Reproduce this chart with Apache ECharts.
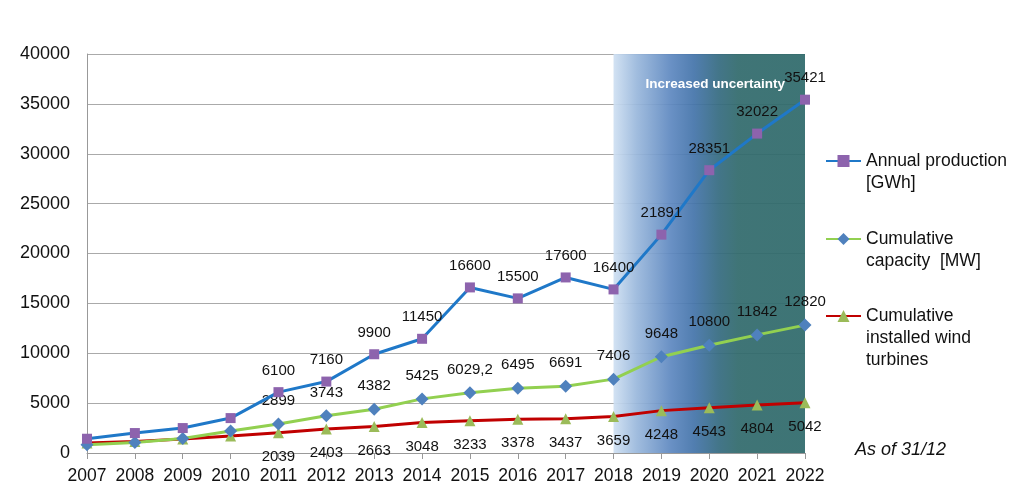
<!DOCTYPE html>
<html>
<head>
<meta charset="utf-8">
<script src="https://cdn.jsdelivr.net/npm/echarts@6/dist/echarts.min.js"></script>
<style>html,body{margin:0;padding:0;background:#fff;}#c{width:1023px;height:495px;}</style>
</head>
<body>
<div id="c"></div>
<script>
const years = ['2007','2008','2009','2010','2011','2012','2013','2014','2015','2016','2017','2018','2019','2020','2021','2022'];
const production = [1430, 2000, 2500, 3500, 6100, 7160, 9900, 11450, 16600, 15500, 17600, 16400, 21891, 28351, 32022, 35421];
const capacity = [830, 1050, 1450, 2200, 2899, 3743, 4382, 5425, 6029.2, 6495, 6691, 7406, 9648, 10800, 11842, 12820];
const turbines = [1000, 1150, 1400, 1700, 2039, 2403, 2663, 3048, 3233, 3378, 3437, 3659, 4248, 4543, 4804, 5042];
const labelFrom = 4; // labels shown from 2011
const yTicks = [0, 5000, 10000, 15000, 20000, 25000, 30000, 35000, 40000];
const uncertaintyFrom = '2018', uncertaintyTo = '2022';
const names = ['Annual production [GWh]', 'Cumulative capacity  [MW]', 'Cumulative installed wind turbines'];
const legendText = {
  'Annual production [GWh]': '\nAnnual production\n[GWh]',
  'Cumulative capacity  [MW]': '\nCumulative\ncapacity  [MW]',
  'Cumulative installed wind turbines': '\n\nCumulative\ninstalled wind\nturbines'
};

function fmt(v){ return String(v).replace('.', ','); }
function withLabels(arr){
  return arr.map((v,i)=> i >= labelFrom ? {value:v} : {value:v, label:{show:false}});
}

const FONT = 'Liberation Sans, Arial, sans-serif';
const chart = echarts.init(document.getElementById('c'), null, {renderer:'canvas'});
const labelStyle = {show:true, color:'#111', fontSize:15, fontFamily:FONT, formatter: p => fmt(p.value)};

const legendBase = {
  orient:'vertical', left: 820, itemWidth: 35, itemHeight: 15,
  textStyle:{fontSize:17.5, color:'#111', fontFamily:FONT, lineHeight:22},
  formatter: n => legendText[n], selectedMode:false
};

chart.setOption({
  animation:false,
  backgroundColor:'#fff',
  grid:{left:87, right:218, top:54, bottom:42},
  title:{text:'As of 31/12', left:850, top:436, textStyle:{fontSize:18, fontStyle:'italic', fontWeight:'normal', color:'#111', fontFamily:FONT}},
  legend:[
    Object.assign({}, legendBase, {data:[names[0]], top:161-33-5}),
    Object.assign({}, legendBase, {data:[names[1]], top:239-33-5}),
    Object.assign({}, legendBase, {data:[names[2]], top:316-55-5})
  ],
  xAxis:{
    type:'category', data:years, boundaryGap:false,
    axisLine:{lineStyle:{color:'#999'}},
    axisTick:{show:true, length:6, interval:0, lineStyle:{color:'#999'}},
    axisLabel:{color:'#111', fontSize:17.5, margin:14, interval:0, fontFamily:FONT}
  },
  yAxis:{
    type:'value', min:yTicks[0], max:yTicks[yTicks.length-1], interval:yTicks[1]-yTicks[0],
    axisLine:{show:true, lineStyle:{color:'#999'}},
    axisTick:{show:false},
    splitLine:{lineStyle:{color:'#aaa', width:1}},
    axisLabel:{color:'#111', fontSize:18, margin:17, fontFamily:FONT, formatter: v => String(v)}
  },
  series:[
    {
      name:names[0], type:'line', data:withLabels(production), z:5,
      symbol:'rect', symbolSize:10,
      lineStyle:{color:'#1f78c8', width:3},
      itemStyle:{color:'#8d63ad'},
      label:Object.assign({}, labelStyle, {position:'top', distance:9}),
      markArea:{
        silent:true,
        itemStyle:{
          opacity:0.93,
          color:{type:'linear', x:0, y:0, x2:1, y2:0, colorStops:[
            {offset:0, color:'#cfe0f2'},
            {offset:0.12, color:'#9ab8dc'},
            {offset:0.3, color:'#5e88c0'},
            {offset:0.42, color:'#4474aa'},
            {offset:0.55, color:'#356b80'},
            {offset:0.65, color:'#316a6c'},
            {offset:1, color:'#2f6a6b'}
          ]}
        },
        label:{show:true, position:'insideTop', distance:23, offset:[6,0], color:'#fff', fontWeight:'bold', fontSize:13.5, fontFamily:FONT},
        data:[[{xAxis:uncertaintyFrom, name:'Increased uncertainty'},{xAxis:uncertaintyTo}]]
      }
    },
    {
      name:names[1], type:'line', data:withLabels(capacity), z:4,
      symbol:'diamond', symbolSize:13,
      lineStyle:{color:'#92d050', width:3},
      itemStyle:{color:'#4f81bd'},
      label:Object.assign({}, labelStyle, {position:'top', distance:9})
    },
    {
      name:names[2], type:'line', data:withLabels(turbines), z:3,
      symbol:'triangle', symbolSize:11,
      lineStyle:{color:'#c00000', width:3},
      itemStyle:{color:'#9bbb59'},
      label:Object.assign({}, labelStyle, {position:'bottom', distance:11})
    }
  ]
});
</script>
</body>
</html>
